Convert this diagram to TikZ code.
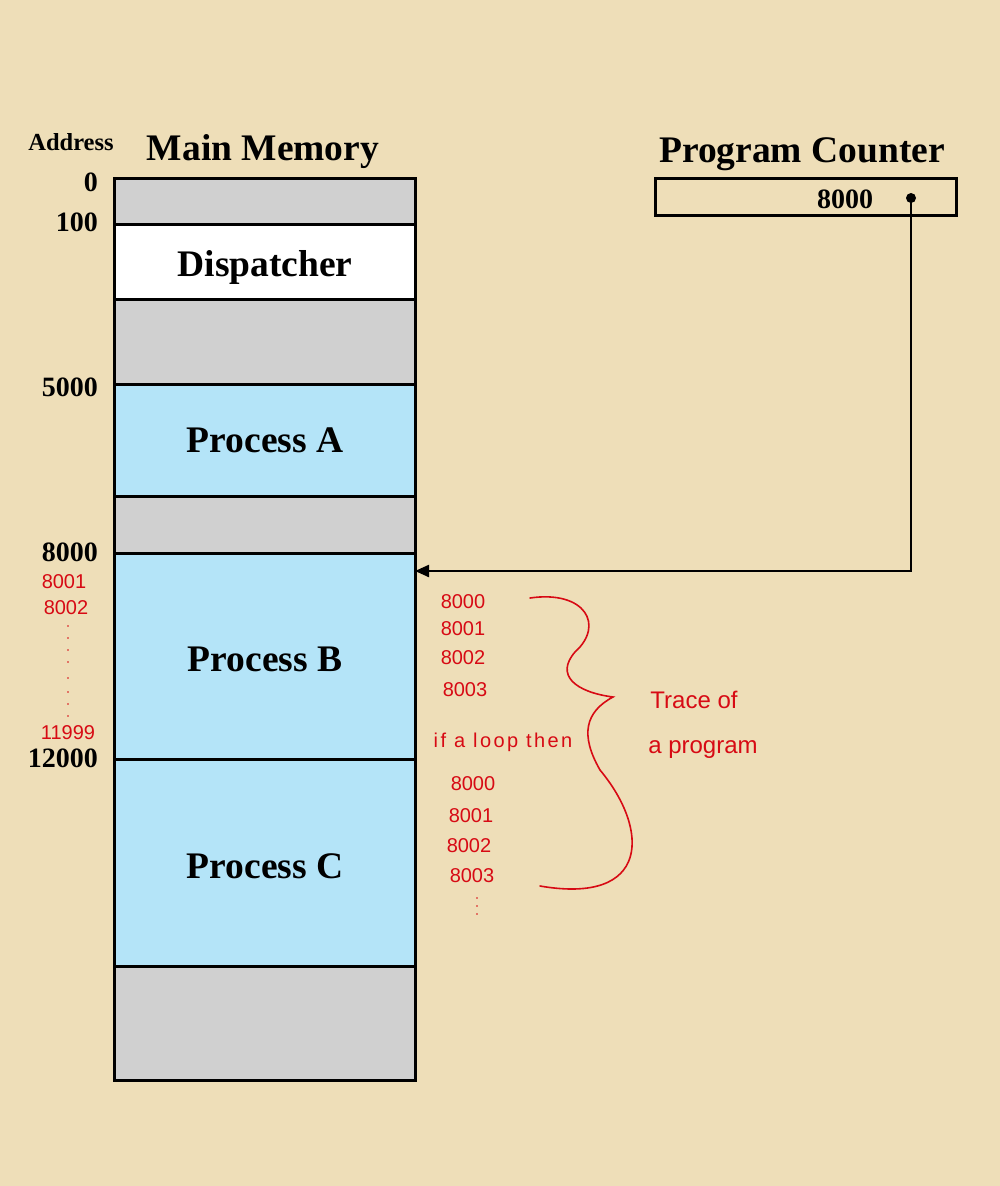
\documentclass[tikz,border=0pt]{standalone}
\usepackage{fontspec}
\setmainfont{Liberation Serif}[BoldFont={Liberation Serif Bold}]
\newfontfamily\boldserif{Liberation Serif Bold}
\newfontfamily\handfont{Liberation Sans}
\usetikzlibrary{arrows.meta}
\definecolor{parch}{RGB}{238,222,184}
\definecolor{memgray}{RGB}{208,208,208}
\definecolor{memblue}{RGB}{180,228,248}
\definecolor{inkred}{RGB}{215,10,20}
\tikzset{
  region/.style={draw=black, line width=3pt, inner sep=0pt, minimum width=301pt, anchor=north west},
  graybox/.style={region, fill=memgray},
  bluebox/.style={region, fill=memblue},
  whitebox/.style={region, fill=white},
  bigtxt/.style={font=\boldserif\fontsize{37.5}{40}\selectfont, inner sep=0pt},
  addr/.style={font=\boldserif\fontsize{28}{30}\selectfont, anchor=east, inner sep=0pt},
  hand/.style={text=inkred, font=\handfont\fontsize{20}{23}\selectfont, inner sep=0pt},
  handbig/.style={text=inkred, font=\handfont\fontsize{24}{28}\selectfont, inner sep=0pt},
}
\begin{document}
\begin{tikzpicture}[x=1pt,y=-1pt]
\fill[parch] (0,0) rectangle (1000,1186);
\useasboundingbox (0,0) rectangle (1000,1186);
% memory regions
\node[graybox, minimum height=46pt] (g0) at (113,177) {};
\node[whitebox, minimum height=75pt] (disp) at (113,223) {};
\node[graybox, minimum height=85pt] (g1) at (113,298) {};
\node[bluebox, minimum height=112pt] (pa) at (113,383) {};
\node[graybox, minimum height=57pt] (g2) at (113,495) {};
\node[bluebox, minimum height=206pt] (pb) at (113,552) {};
\node[bluebox, minimum height=207pt] (pc) at (113,758) {};
\node[graybox, minimum height=114pt] (g3) at (113,965) {};
% labels in regions
\node[bigtxt] at ([yshift=-5pt]disp.center) {Dispatcher};
\node[bigtxt] at ([yshift=0pt]pa.center) {Process A};
\node[bigtxt] at ([yshift=-3pt]pb.center) {Process B};
\node[bigtxt] at ([yshift=-3pt]pc.center) {Process C};
% titles
\node[font=\boldserif\fontsize{24.5}{27}\selectfont, inner sep=0pt] (addrtitle) at (71,142) {Address};
\node[font=\boldserif\fontsize{37.5}{40}\selectfont, inner sep=0pt] (mmtitle) at (263,152) {Main Memory};
\node[font=\boldserif\fontsize{37.5}{40}\selectfont, inner sep=0pt] (pctitle) at (802,154) {Program Counter};
% addresses
\node[addr] (a0) at (98,182) {0};
\node[addr] (a100) at (98,222) {100};
\node[addr] (a5000) at (98,387) {5000};
\node[addr] (a8000) at (98,552) {8000};
\node[addr] (a12000) at (98,758) {12000};
% program counter
\node[draw=black, line width=3pt, minimum width=301pt, minimum height=37pt, inner sep=0pt, anchor=north west] (pcbox) at (654,177) {};
\node[font=\boldserif\fontsize{28}{30}\selectfont, inner sep=0pt] (pcval) at (845,199) {8000};
\coordinate (dot) at (911,198);
\fill (dot) circle (5pt);
\coordinate (target) at (415,571);
\draw[line width=2.2pt, -{Triangle[length=14pt,width=12pt]}] (dot) |- (target);
% handwritten notes, left
\node[hand] (l1) at (64,582) {8001};
\node[hand] (l2) at (66,608) {8002};
\foreach \y in {626,638,650,662,678,692,704,716}
  \fill[inkred] (68,\y) circle (0.9pt);
\node[hand] (l3) at (68,733) {11999};
% handwritten notes, right
\node[hand] (t1) at (463,602) {8000};
\node[hand] (t2) at (463,629) {8001};
\node[hand] (t3) at (463,658) {8002};
\node[hand] (t4) at (465,690) {8003};
\node[hand, font=\handfont\fontsize{20}{24}\selectfont\addfontfeatures{LetterSpace=12}] (loop) at (503,742) {if a loop then};
\node[hand] (t5) at (473,784) {8000};
\node[hand] (t6) at (471,816) {8001};
\node[hand] (t7) at (469,846) {8002};
\node[hand] (t8) at (472,876) {8003};
\foreach \y in {898,906,914}
  \fill[inkred] (477,\y) circle (0.9pt);
\coordinate (bs) at (530,598);
\coordinate (bm) at (613,697);
\coordinate (be) at (540,886);
\draw[inkred, line width=1.6pt, line cap=round]
  (bs) .. controls (585,590) and (605,625) .. (575,652)
  .. controls (555,675) and (575,692) .. (bm)
  .. controls (585,712) and (580,735) .. (600,770)
  .. controls (650,830) and (650,905) .. (be);
\node[handbig] (tr1) at (694,700) {Trace of};
\node[handbig] (tr2) at (703,750) {a program};
\end{tikzpicture}
\end{document}
